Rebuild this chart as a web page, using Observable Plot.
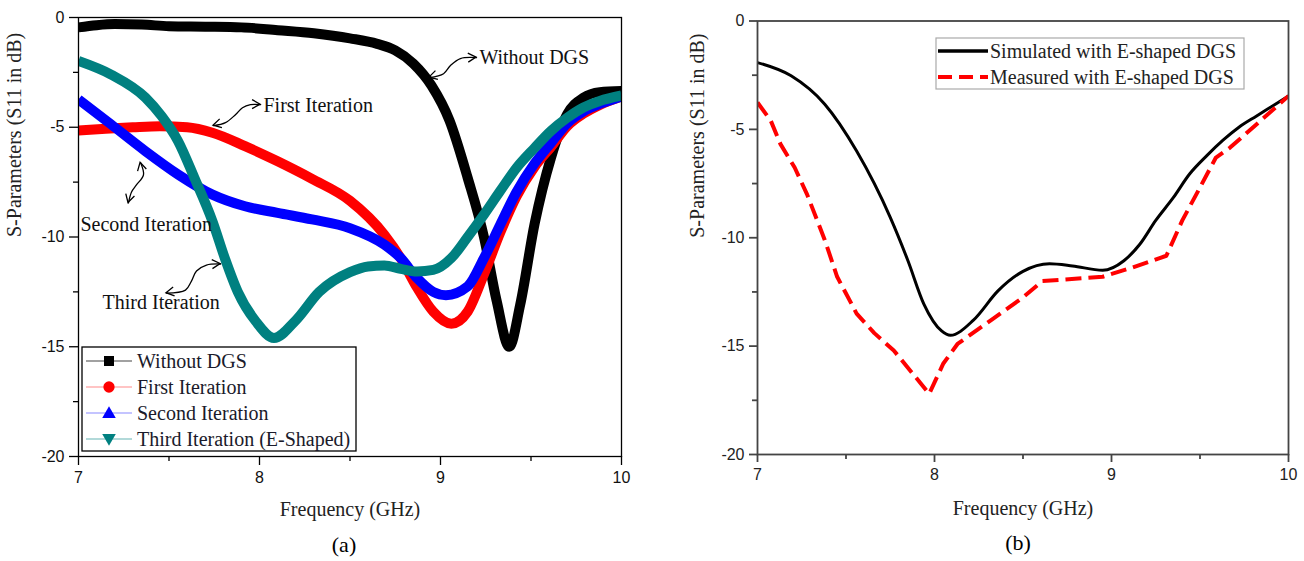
<!DOCTYPE html>
<html>
<head>
<meta charset="utf-8">
<script src="https://cdn.jsdelivr.net/npm/d3@7"></script>
<script src="https://cdn.jsdelivr.net/npm/@observablehq/plot@0.6"></script>
<style>
  body { margin: 0; background: #fff; }
  #wrap { position: relative; width: 1304px; height: 561px; overflow: hidden; }
  .panel { position: absolute; top: 0; }
</style>
</head>
<body>
<div id="wrap">
  <div id="pa" class="panel" style="left:0px"></div>
  <div id="pb" class="panel" style="left:652px"></div>
</div>
<script>
// ---------- Panel (a) data ----------
const freqWithout = [7.0, 7.1, 7.2, 7.35, 7.5, 7.7, 7.9, 8.1, 8.3, 8.5, 8.65, 8.75, 8.85, 8.95, 9.05, 9.15, 9.24, 9.31, 9.38, 9.44, 9.52, 9.61, 9.70, 9.79, 9.88, 10.0];
const s11Without  = [-0.45, -0.35, -0.3, -0.32, -0.4, -0.42, -0.45, -0.58, -0.72, -0.95, -1.2, -1.5, -2.1, -3.1, -4.7, -7.3, -10.0, -12.9, -15.0, -13.1, -9.4, -6.4, -4.4, -3.65, -3.4, -3.35];

const freqFirst = [7.0, 7.15, 7.3, 7.45, 7.6, 7.74, 7.92, 8.1, 8.29, 8.5, 8.69, 8.78, 8.87, 8.96, 9.06, 9.15, 9.24, 9.33, 9.42, 9.52, 9.61, 9.70, 9.79, 9.88, 10.0];
const s11First  = [-5.15, -5.07, -5.0, -4.95, -5.0, -5.25, -5.86, -6.55, -7.35, -8.35, -9.9, -10.96, -12.3, -13.4, -13.95, -13.4, -11.7, -9.8, -8.15, -6.8, -5.9, -4.95, -4.38, -3.98, -3.6];

const freqSecond = [7.0, 7.18, 7.37, 7.55, 7.74, 7.92, 8.1, 8.29, 8.5, 8.69, 8.78, 8.87, 8.96, 9.03, 9.15, 9.24, 9.33, 9.42, 9.52, 9.61, 9.70, 9.79, 9.88, 10.0];
const s11Second  = [-3.73, -4.87, -6.09, -7.15, -8.07, -8.6, -8.9, -9.2, -9.6, -10.35, -10.96, -11.87, -12.5, -12.65, -12.25, -10.96, -9.44, -7.95, -6.65, -5.72, -4.82, -4.28, -3.94, -3.6];

const freqThird = [7.0, 7.18, 7.37, 7.46, 7.55, 7.64, 7.74, 7.81, 7.88, 7.98, 8.08, 8.2, 8.33, 8.5, 8.6, 8.69, 8.78, 8.87, 8.96, 9.06, 9.15, 9.24, 9.33, 9.42, 9.52, 9.61, 9.70, 9.79, 9.88, 10.0];
const s11Third  = [-1.98, -2.6, -3.65, -4.5, -5.63, -7.3, -9.28, -11.0, -12.5, -13.85, -14.6, -13.8, -12.5, -11.6, -11.34, -11.3, -11.45, -11.57, -11.5, -10.96, -10.0, -8.98, -7.9, -6.85, -5.94, -5.17, -4.57, -4.1, -3.8, -3.55];

const seriesNamesA = ["Without DGS", "First Iteration", "Second Iteration", "Third Iteration (E-Shaped)"];
const seriesColorsA = ["#000000", "#ff0000", "#0000ff", "#008080"];
const legendLineColorsA = ["#444444", "#ff8a8a", "#8a8aff", "#66b3b3"];

const annotationTextsA = ["Without DGS", "First Iteration", "Second Iteration", "Third Iteration"];
const annotationFreqA = [9.215, 8.022, 7.011, 7.133];
const annotationS11A  = [-1.83, -4.02, -9.45, -13.0];
// squiggly double-headed arrows (frequency, dB)
const arrowFreqA = [
  [8.939, 9.017, 9.055, 9.110, 9.199],
  [7.746, 7.812, 7.867, 7.906, 7.950, 8.006],
  [7.343, 7.359, 7.320, 7.293, 7.276],
  [7.785, 7.707, 7.652, 7.624, 7.591, 7.486]
];
const arrowS11A = [
  [-2.74, -2.56, -2.19, -1.87, -1.83],
  [-4.93, -4.79, -4.43, -4.11, -3.97, -3.97],
  [-6.62, -7.17, -7.63, -7.95, -8.45],
  [-11.23, -11.28, -11.55, -12.01, -12.42, -12.56]
];

// ---------- Panel (b) data ----------
const freqSimulated = [7.0, 7.19, 7.38, 7.56, 7.75, 7.85, 7.94, 8.04, 8.09, 8.22, 8.36, 8.5, 8.65, 8.78, 8.95, 9.07, 9.16, 9.25, 9.35, 9.44, 9.54, 9.63, 9.72, 9.82, 9.91, 10.0];
const s11Simulated  = [-1.92, -2.53, -3.84, -6.0, -9.06, -11.06, -13.06, -14.3, -14.5, -13.8, -12.44, -11.55, -11.2, -11.3, -11.5, -11.06, -10.3, -9.2, -8.14, -7.07, -6.2, -5.5, -4.9, -4.38, -3.92, -3.46];

const freqMeasured = [7.0, 7.075, 7.13, 7.21, 7.28, 7.38, 7.45, 7.56, 7.66, 7.77, 7.88, 7.97, 8.05, 8.13, 8.32, 8.5, 8.61, 8.95, 9.12, 9.31, 9.40, 9.50, 9.59, 9.67, 9.82, 10.0];
const s11Measured  = [-3.76, -4.6, -5.68, -6.76, -8.0, -10.1, -11.8, -13.5, -14.4, -15.2, -16.3, -17.2, -15.8, -14.9, -13.8, -12.75, -12.0, -11.8, -11.37, -10.83, -9.2, -7.68, -6.3, -5.84, -4.76, -3.46];

const seriesNamesB = ["Simulated with E-shaped DGS", "Measured with E-shaped DGS"];

// ---------- shared ----------
const xTicks = [7, 8, 9, 10];
const xMinorTicks = [7.5, 8.5, 9.5];
const yTicks = [0, -5, -10, -15, -20];
const yMinorTicks = [-2.5, -7.5, -12.5, -17.5];
const xLabel = "Frequency (GHz)";
const yLabel = "S-Parameters (S11 in dB)";

const serif = '"Liberation Serif", "Times New Roman", serif';
const sans = '"Liberation Sans", Arial, sans-serif';

const zip = (fs, ss) => fs.map((f, i) => ({f, s: ss[i]}));

// ---------- build panel (a) ----------
const dataA = [
  zip(freqWithout, s11Without),
  zip(freqFirst, s11First),
  zip(freqSecond, s11Second),
  zip(freqThird, s11Third)
];
const annotationsA = annotationTextsA.map((t, i) => ({t, f: annotationFreqA[i], s: annotationS11A[i]}));

const tickTextA = {fontSize: 16, fontFamily: sans, fill: "#111"};

const plotA = Plot.plot({
  width: 650, height: 561,
  marginLeft: 78, marginRight: 29, marginTop: 17, marginBottom: 105,
  style: {fontFamily: sans, fontSize: "16px", color: "#000", background: "transparent", overflow: "visible"},
  x: {domain: [7, 10]},
  y: {domain: [-20, 0]},
  marks: [
    ...dataA.map((d, i) => Plot.line(d, {x: "f", y: "s", stroke: seriesColorsA[i], strokeWidth: 10, curve: "monotone-x", clip: true, strokeLinecap: "butt"})),
    Plot.frame({stroke: "#000", strokeWidth: 1.3}),
    Plot.axisX(xTicks, {tickSize: 9, tickPadding: 6, label: null, tickFormat: d => String(d), strokeWidth: 1.3, ...tickTextA}),
    Plot.axisX(xMinorTicks, {tickSize: 5, label: null, tickFormat: () => "", strokeWidth: 1.3}),
    Plot.axisY(yTicks, {tickSize: 9, tickPadding: 5, label: null, tickFormat: d => String(d), strokeWidth: 1.3, ...tickTextA}),
    Plot.axisY(yMinorTicks, {tickSize: 5, label: null, tickFormat: () => "", strokeWidth: 1.3}),
    Plot.text(annotationsA, {x: "f", y: "s", text: "t", textAnchor: "start", fontFamily: serif, fontSize: 20, fill: "#111"}),
    ...arrowFreqA.map((fs, i) => Plot.line(zip(fs, arrowS11A[i]), {x: "f", y: "s", stroke: "#000", strokeWidth: 1.3, curve: "catmull-rom"})),
    Plot.text([xLabel], {frameAnchor: "bottom", dy: 59, text: d => d, fontFamily: serif, fontSize: 20, fill: "#222"}),
    Plot.text([yLabel], {frameAnchor: "left", dx: -64, rotate: -90, text: d => d, fontFamily: serif, fontSize: 20, fill: "#222"}),
    Plot.text(["(a)"], {frameAnchor: "bottom", dx: -6, dy: 95, text: d => d, fontFamily: serif, fontSize: 22, fill: "#000"})
  ]
});
document.getElementById("pa").appendChild(plotA);

// open arrowheads at both ends of each squiggle, oriented from the scaled path
{
  const sx = plotA.scale("x"), sy = plotA.scale("y");
  const g = d3.select(plotA).append("g").attr("fill", "none").attr("stroke", "#000").attr("stroke-width", 1.3);
  const head = (p, q) => {
    const dx = p[0] - q[0], dy = p[1] - q[1], L = Math.hypot(dx, dy) || 1;
    const ux = dx / L, uy = dy / L, nx = -uy, ny = ux;
    const len = 8, half = 4.5;
    return `M${p[0] - len * ux + half * nx},${p[1] - len * uy + half * ny}L${p[0]},${p[1]}L${p[0] - len * ux - half * nx},${p[1] - len * uy - half * ny}`;
  };
  arrowFreqA.forEach((fs, i) => {
    const pts = fs.map((f, j) => [sx.apply(f), sy.apply(arrowS11A[i][j])]);
    const n = pts.length;
    const aEnd = [(pts[n - 1][0] * 2 + pts[n - 2][0]) / 3, (pts[n - 1][1] * 2 + pts[n - 2][1]) / 3];
    const aStart = [(pts[0][0] * 2 + pts[1][0]) / 3, (pts[0][1] * 2 + pts[1][1]) / 3];
    g.append("path").attr("d", head(pts[n - 1], aEnd));
    g.append("path").attr("d", head(pts[0], aStart));
  });
}

// legend (a)
{
  const symbols = [d3.symbolSquare, d3.symbolCircle, d3.symbolTriangle, d3.symbolTriangle];
  const rots = [0, 0, 0, 180];
  const sizes = [100, 100, 80, 80];
  const g = d3.select(plotA).append("g").attr("transform", "translate(82,347)");
  g.append("rect").attr("width", 274).attr("height", 104).attr("fill", "#fff").attr("stroke", "#000").attr("stroke-width", 1.3);
  seriesNamesA.forEach((name, i) => {
    const y = 14 + i * 26;
    g.append("line").attr("x1", 4).attr("x2", 50).attr("y1", y).attr("y2", y)
      .attr("stroke", legendLineColorsA[i]).attr("stroke-width", 1.2);
    g.append("path").attr("d", d3.symbol(symbols[i], sizes[i])())
      .attr("transform", `translate(27,${y + (i >= 2 ? (i === 2 ? 1 : -1) : 0)}) rotate(${rots[i]})`)
      .attr("fill", seriesColorsA[i]);
    g.append("text").attr("x", 55).attr("y", y).attr("dy", "0.35em").attr("text-anchor", "start").text(name)
      .attr("font-family", serif).attr("font-size", 20).attr("fill", "#1a1a2a");
  });
}

// ---------- build panel (b) ----------
const tickTextB = {fontSize: 16, fontFamily: sans, fill: "#222"};
const plotB = Plot.plot({
  width: 652, height: 561,
  marginLeft: 105, marginRight: 16, marginTop: 20.5, marginBottom: 107,
  style: {fontFamily: sans, fontSize: "16px", color: "#222", background: "transparent", overflow: "visible"},
  x: {domain: [7, 10]},
  y: {domain: [-20, 0]},
  marks: [
    Plot.line(zip(freqSimulated, s11Simulated), {x: "f", y: "s", stroke: "#000", strokeWidth: 3, curve: "monotone-x", clip: true}),
    Plot.line(zip(freqMeasured, s11Measured), {x: "f", y: "s", stroke: "#ff0000", strokeWidth: 4, strokeDasharray: "16,7", curve: "linear", clip: true, strokeLinecap: "butt"}),
    Plot.frame({stroke: "#444", strokeWidth: 1.8}),
    Plot.axisX(xTicks, {tickSize: 8, tickPadding: 6, label: null, tickFormat: d => String(d), stroke: "#444", strokeWidth: 1.8, ...tickTextB}),
    Plot.axisX(xMinorTicks, {tickSize: 5, label: null, tickFormat: () => "", stroke: "#444", strokeWidth: 1.8}),
    Plot.axisY(yTicks, {tickSize: 8, tickPadding: 5, label: null, tickFormat: d => String(d), stroke: "#444", strokeWidth: 1.8, ...tickTextB}),
    Plot.axisY(yMinorTicks, {tickSize: 5, label: null, tickFormat: () => "", stroke: "#444", strokeWidth: 1.8}),
    Plot.text([xLabel], {frameAnchor: "bottom", dy: 60, text: d => d, fontFamily: serif, fontSize: 20, fill: "#222"}),
    Plot.text([yLabel], {frameAnchor: "left", dx: -60, rotate: -90, text: d => d, fontFamily: serif, fontSize: 20, fill: "#222"}),
    Plot.text(["(b)"], {frameAnchor: "bottom", dx: -5, dy: 95, text: d => d, fontFamily: serif, fontSize: 22, fill: "#000"})
  ]
});
document.getElementById("pb").appendChild(plotB);

// legend (b)
{
  const g = d3.select(plotB).append("g").attr("transform", "translate(284,38)");
  g.append("rect").attr("width", 308).attr("height", 51).attr("fill", "#fff").attr("stroke", "#aaa").attr("stroke-width", 1.2);
  const styles = [{stroke: "#000", w: 3.5, dash: null}, {stroke: "#ff0000", w: 4, dash: "14,7"}];
  seriesNamesB.forEach((name, i) => {
    const y = 13 + i * 26;
    g.append("line").attr("x1", 2).attr("x2", 52).attr("y1", y).attr("y2", y)
      .attr("stroke", styles[i].stroke).attr("stroke-width", styles[i].w)
      .attr("stroke-dasharray", styles[i].dash);
    g.append("text").attr("x", 54).attr("y", y).attr("dy", "0.35em").attr("text-anchor", "start").text(name)
      .attr("font-family", serif).attr("font-size", 20).attr("fill", "#222");
  });
}
</script>
</body>
</html>
